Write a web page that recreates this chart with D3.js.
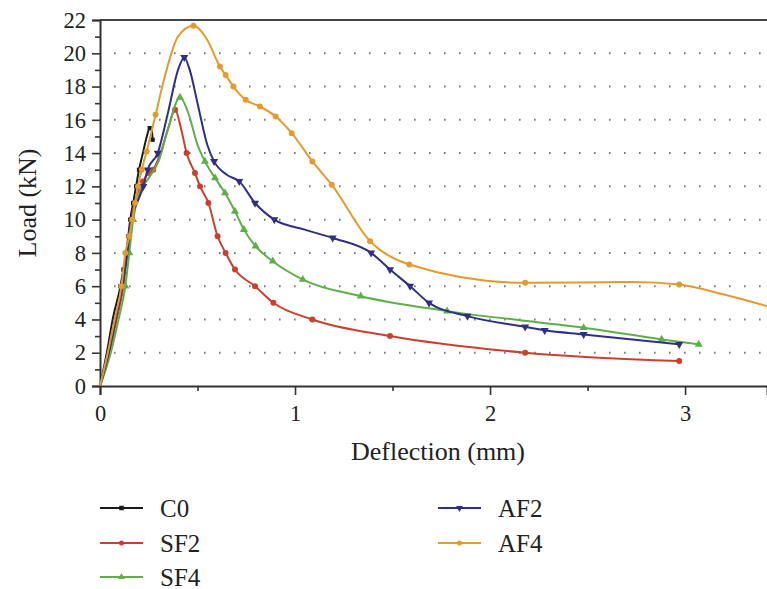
<!DOCTYPE html>
<html>
<head>
<meta charset="utf-8">
<script src="https://cdn.jsdelivr.net/npm/d3@7"></script>
<style>
  body { margin: 0; background: #fff; }
  svg { font-family: "Liberation Serif", "DejaVu Serif", serif; }
</style>
</head>
<body>
<svg width="767" height="589"></svg>
<script>
// [deflection mm, load kN, marker?]
const c0 = [[0,0,0],[0.035,2,0],[0.065,4,0],[0.105,6,1],[0.12,7,1],[0.135,8,1],[0.145,9,1],[0.155,10,1],
  [0.17,11,1],[0.185,12,1],[0.2,13,1],[0.22,14,0],[0.24,15,0],[0.255,15.5,1],[0.265,15.4,0],[0.27,14.8,1]];
const sf2 = [[0,0,0],[0.05,2,0],[0.085,4,0],[0.12,6,0],[0.14,8,0],[0.16,10,0],[0.19,11.5,0],[0.22,12.3,1],
  [0.25,12.8,1],[0.273,13,1],[0.31,14,0],[0.35,15.5,0],[0.385,16.6,1],[0.415,15.5,0],[0.444,14,1],
  [0.487,12.8,1],[0.513,12,1],[0.556,11,1],[0.603,9,1],[0.644,8,1],[0.692,7,1],[0.795,6,1],[0.889,5,1],
  [1.089,4,1],[1.487,3,1],[2.18,2,1],[2.97,1.5,1]];
const sf4 = [[0,0,0],[0.055,2,0],[0.095,4,0],[0.13,6,1],[0.15,8,1],[0.17,10,1],[0.2,11.5,0],[0.25,12.5,0],
  [0.3,13.5,0],[0.35,15.5,0],[0.41,17.35,1],[0.45,16.5,0],[0.5,14.5,0],[0.538,13.5,1],[0.59,12.5,1],
  [0.641,11.6,1],[0.692,10.5,1],[0.738,9.4,1],[0.798,8.4,1],[0.886,7.5,1],[1.04,6.4,1],[1.337,5.4,1],
  [1.78,4.5,1],[2.48,3.5,1],[2.88,2.8,1],[3.07,2.5,1]];
const af2 = [[0,0,0],[0.045,2,0],[0.08,4,0],[0.115,6,0],[0.14,8,0],[0.16,10,0],[0.19,11,0],[0.222,12,1],
  [0.244,13,1],[0.296,14,1],[0.35,16.5,0],[0.4,19,0],[0.432,19.75,1],[0.46,19,0],[0.5,17,0],[0.55,14.5,0],
  [0.585,13.5,1],[0.65,12.7,0],[0.714,12.3,1],[0.795,11,1],[0.894,10,1],[1.05,9.4,0],[1.193,8.9,1],
  [1.39,8,1],[1.487,7,1],[1.59,6,1],[1.687,5,1],[1.884,4.2,1],[2.18,3.55,1],[2.28,3.35,1],[2.48,3.1,1],[2.97,2.5,1]];
const af4 = [[0,0,0],[0.04,2,0],[0.075,4,0],[0.11,6,1],[0.13,8,1],[0.15,9,1],[0.165,10,1],[0.18,11,1],
  [0.195,12,1],[0.214,13,1],[0.239,14.1,1],[0.285,16.3,1],[0.33,18.5,0],[0.4,21,0],[0.479,21.65,1],
  [0.55,20.8,0],[0.615,19.2,1],[0.644,18.7,1],[0.684,18.0,1],[0.747,17.2,1],[0.82,16.8,1],[0.901,16.2,1],
  [0.983,15.2,1],[1.089,13.5,1],[1.188,12.1,1],[1.385,8.7,1],[1.586,7.3,1],[2.18,6.2,1],[2.73,6.25,0],
  [2.97,6.1,1],[3.2,5.5,0],[3.45,4.7,0]];

const seriesNames = ["C0", "SF2", "SF4", "AF2", "AF4"];
const seriesData = [c0, sf2, sf4, af2, af4];
const colors = ["#1b1b1b", "#c8412f", "#5fae4a", "#2f2f86", "#e39a2e"];
const symbols = [d3.symbolSquare, d3.symbolCircle, d3.symbolTriangle, d3.symbolTriangle, d3.symbolCircle];
const yTicks = [0,2,4,6,8,10,12,14,16,18,20,22];
const xTicks = [0,1,2,3];

const svg = d3.select("svg");
const pLeft = 100, pRight = 767, pTop = 20, pBottom = 386;

const x = d3.scaleLinear().domain([0, 3.42]).range([pLeft, pRight]);
const y = d3.scaleLinear().domain([0, 22]).range([pBottom, pTop]);

svg.append("defs").append("clipPath").attr("id", "clip")
  .append("rect").attr("x", pLeft).attr("y", pTop - 5).attr("width", pRight - pLeft).attr("height", pBottom - pTop + 5);

// dotted grid
svg.append("g").selectAll("line").data(yTicks.filter(d => d > 0 && d < 22)).join("line")
  .attr("x1", pLeft).attr("x2", pRight)
  .attr("y1", d => y(d)).attr("y2", d => y(d))
  .attr("stroke", "#777").attr("stroke-width", 2)
  .attr("stroke-dasharray", "1.6,13.4").attr("stroke-dashoffset", -14);

// top border
svg.append("line").attr("x1", pLeft).attr("x2", pRight).attr("y1", pTop).attr("y2", pTop)
  .attr("stroke", "#444").attr("stroke-width", 2);

// axes
svg.append("g").attr("transform", `translate(${pLeft},0)`)
  .call(d3.axisLeft(y).tickValues(yTicks).tickSize(8).tickPadding(6).tickFormat(d3.format("d")));
svg.append("g").attr("transform", `translate(${pLeft},0)`)
  .call(d3.axisLeft(y).tickValues(d3.range(1, 22, 2)).tickSize(5).tickFormat(""))
  .call(g => g.select(".domain").remove());
svg.append("g").attr("transform", `translate(0,${pBottom})`)
  .call(d3.axisBottom(x).tickValues(xTicks).tickSize(9).tickPadding(10).tickFormat(d3.format("d")));
svg.append("g").attr("transform", `translate(0,${pBottom})`)
  .call(d3.axisBottom(x).tickValues([0.5, 1.5, 2.5]).tickSize(5).tickFormat(""))
  .call(g => g.select(".domain").remove());

svg.selectAll(".domain").attr("stroke", "#333").attr("stroke-width", 2);
svg.selectAll(".tick line").attr("stroke", "#333").attr("stroke-width", 1.6);
svg.selectAll(".tick text").attr("font-family", "Liberation Serif, serif").attr("font-size", 22.5).attr("fill", "#222");

svg.append("text").attr("transform", `translate(36,203) rotate(-90)`)
  .attr("text-anchor", "middle").attr("font-size", 26).attr("fill", "#222").text("Load (kN)");
svg.append("text").attr("x", 438).attr("y", 460)
  .attr("text-anchor", "middle").attr("font-size", 26).attr("fill", "#222").text("Deflection (mm)");

// curves
const line = d3.line().x(d => x(d[0])).y(d => y(d[1])).curve(d3.curveMonotoneX);
const plot = svg.append("g").attr("clip-path", "url(#clip)");
seriesData.forEach((data, i) => {
  plot.append("path").datum(data)
    .attr("d", line).attr("fill", "none")
    .attr("stroke", colors[i]).attr("stroke-width", 2);
  plot.selectAll(".m" + i).data(data.filter(d => d[2])).join("path")
    .attr("class", "m" + i)
    .attr("transform", d => `translate(${x(d[0])},${y(d[1])})` + (i === 3 ? " rotate(180)" : ""))
    .attr("d", d3.symbol().type(symbols[i]).size(i === 0 ? 18 : 28))
    .attr("fill", colors[i]);
});

// legend
const legendPos = [[100, 508], [100, 543], [100, 577], [438, 508], [438, 543]];
seriesNames.forEach((name, i) => {
  const [lx, ly] = legendPos[i];
  const g = svg.append("g").attr("transform", `translate(${lx},${ly})`);
  g.append("line").attr("x1", 0).attr("x2", 43).attr("stroke", colors[i]).attr("stroke-width", 2);
  g.append("path").attr("transform", "translate(21.5,0)" + (i === 3 ? " rotate(180)" : ""))
    .attr("d", d3.symbol().type(symbols[i]).size(20)).attr("fill", colors[i]);
  g.append("text").attr("x", 60).attr("y", 0).attr("dy", "0.34em")
    .attr("font-size", 25).attr("fill", "#222").text(name);
});
</script>
</body>
</html>
